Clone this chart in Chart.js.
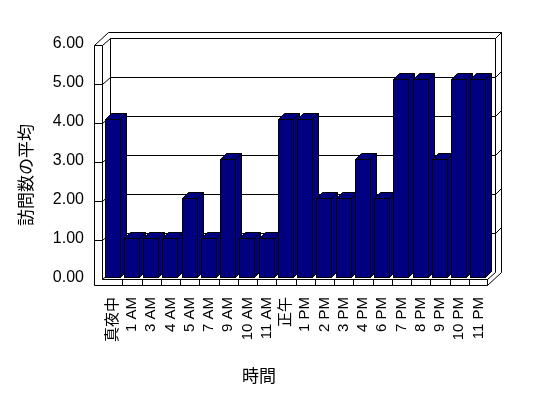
<!DOCTYPE html>
<html>
<head>
<meta charset="utf-8">
<script src="https://cdn.jsdelivr.net/npm/chart.js@4"></script>
<style>
  body { margin: 0; background: #fff; }
  canvas { display: block; }
</style>
</head>
<body>
<canvas id="chart" width="548" height="398"></canvas>
<script>
"use strict";

const hours = ["真夜中", "1 AM", "3 AM", "4 AM", "5 AM", "7 AM", "9 AM", "10 AM", "11 AM", "正午",
    "1 PM", "2 PM", "3 PM", "4 PM", "6 PM", "7 PM", "8 PM", "9 PM", "10 PM", "11 PM"];
const avgVisits = [4, 1, 1, 1, 2, 1, 3, 1, 1, 4, 4, 2, 2, 3, 2, 5, 5, 3, 5, 5];
const yTicks = [0, 1, 2, 3, 4, 5, 6];
const xTitle = "時間";
const yTitle = "訪問数の平均";

const barColor = "#000080";
const barDepth = 6;

function poly(ctx, pts, fill) {
    ctx.beginPath();
    ctx.moveTo(pts[0][0], pts[0][1]);
    pts.slice(1).forEach(p => ctx.lineTo(p[0], p[1]));
    if (fill) {
        ctx.closePath();
        ctx.fillStyle = fill;
        ctx.fill();
    }
    ctx.stroke();
}

// walls, floor, gridlines and the depth faces of the bars
const box3d = {
    id: "box3d",
    beforeDatasetsDraw(chart) {
        const ctx = chart.ctx;
        const ca = chart.chartArea;
        const yl = chart.scales.yl;
        const xs = chart.scales.x;

        const L = Math.round(ca.left) - 9 + 0.5;
        const R = L + 8;
        const FR = Math.round(ca.right) - 1 + 0.5;
        const top = Math.round(yl.getPixelForValue(yTicks[yTicks.length - 1])) + 1 + 0.5;
        const y0 = Math.round(ca.bottom) + 1 + 0.5;
        const yb = y0 + 6;

        ctx.save();
        ctx.strokeStyle = "#000";
        ctx.lineWidth = 1;

        // back wall
        poly(ctx, [[R + 8, y0 - 7], [R + 8, top - 7], [FR + 8, top - 7], [FR + 8, y0 - 7]]);
        poly(ctx, [[L + 14, top - 13], [FR + 14, top - 13], [FR + 14, y0 - 7], [FR, yb]]);
        poly(ctx, [[FR + 8, top - 7], [FR + 14, top - 13]]);
        // left wall and floor
        poly(ctx, [[L, top], [L, yb], [FR, yb], [FR, y0], [R, y0], [R, top], [L, top]]);
        poly(ctx, [[L, top], [L + 14, top - 13]]);
        poly(ctx, [[R, top], [R + 8, top - 7]]);
        poly(ctx, [[R, y0], [R + 8, y0 - 7]]);
        poly(ctx, [[FR, y0], [FR + 8, y0 - 7]]);

        // gridlines
        yTicks.slice(1, -1).forEach(v => {
            const yf = Math.round(yl.getPixelForValue(v)) + 1 + 0.5;
            poly(ctx, [[L, yf], [R, yf], [R + 8, yf - 7], [FR + 8, yf - 7], [FR + 14, yf - 13]]);
        });

        // category ticks on floor edge
        for (let i = 1; i < hours.length; i++) {
            const xb = Math.round((xs.getPixelForTick(i - 1) + xs.getPixelForTick(i)) / 2) + 0.5;
            poly(ctx, [[xb, y0], [xb, yb]]);
        }

        // snap bars to whole pixels, then draw their sides and tops
        chart.getDatasetMeta(0).data.forEach(el => {
            const w = Math.round(el.width);
            const left = Math.round(el.x - w / 2);
            el.width = w;
            el.x = left + w / 2;
            el.y = Math.round(el.y);
            el.base = Math.round(el.base);

            const l = left + 0.5;
            const r = left + w - 0.5;
            const t = el.y + 0.5;
            const b = el.base - 0.5;
            const d = barDepth;
            poly(ctx, [[r, t], [r + d, t - d], [r + d, b - d], [r, b]], barColor);
            poly(ctx, [[l, t], [l + d, t - d], [r + d, t - d], [r, t]], barColor);
        });
        ctx.restore();
    },
    afterDraw(chart) {
        const ctx = chart.ctx;
        ctx.save();
        ctx.fillStyle = "#000";
        ctx.font = '17px "Noto Sans CJK JP"';
        ctx.textAlign = "center";
        ctx.textBaseline = "middle";
        ctx.fillText(xTitle, 259, 376);
        ctx.translate(26, 175);
        ctx.rotate(-Math.PI / 2);
        ctx.fillText(yTitle, 0, 0);
        ctx.restore();
    }
};

new Chart(document.getElementById("chart"), {
    type: "bar",
    data: {
        labels: hours,
        datasets: [{
            data: avgVisits,
            backgroundColor: barColor,
            borderColor: "#000",
            borderWidth: 1,
            borderSkipped: false,
            barPercentage: 0.82,
            categoryPercentage: 1
        }]
    },
    options: {
        responsive: false,
        animation: false,
        layout: { padding: { left: 0, top: 39, right: 60, bottom: 0 } },
        plugins: {
            legend: { display: false },
            tooltip: { enabled: false }
        },
        scales: {
            x: {
                grid: { display: false, drawTicks: false },
                border: { display: false },
                ticks: {
                    color: "#000",
                    autoSkip: false,
                    minRotation: 90,
                    maxRotation: 90,
                    padding: 19,
                    font: { family: '"Liberation Sans", "Noto Sans CJK JP"', size: 15 }
                },
                afterFit: s => { s.height = 120; }
            },
            y: { display: false, min: 0, max: 6 },
            yl: {
                type: "linear",
                position: "left",
                min: 0,
                max: 6.128,
                grid: { display: false, drawTicks: false },
                border: { display: false },
                ticks: {
                    color: "#000",
                    padding: 19,
                    font: { family: '"Liberation Sans"', size: 16 },
                    callback: v => v.toFixed(2)
                },
                afterBuildTicks: s => { s.ticks = yTicks.map(v => ({ value: v })); },
                afterFit: s => { s.width = 103; }
            }
        }
    },
    plugins: [box3d]
});
</script>
</body>
</html>
